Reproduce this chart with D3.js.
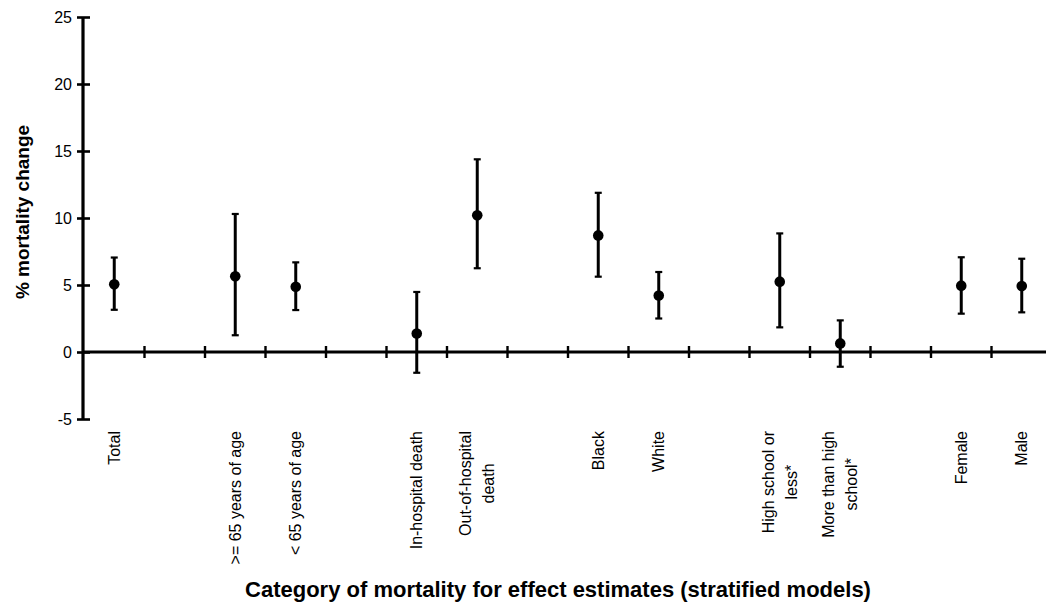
<!DOCTYPE html>
<html>
<head>
<meta charset="utf-8">
<script src="https://cdn.jsdelivr.net/npm/d3@7"></script>
<style>
  html, body { margin: 0; padding: 0; background: #fff; }
  svg { display: block; font-family: "Liberation Sans", Arial, sans-serif; }
</style>
</head>
<body>
<svg id="chart" width="1046" height="607"></svg>
<script>
// ---- data ----
const categories = ["Total", ">= 65 years of age", "< 65 years of age", "In-hospital death",
  "Out-of-hospital\ndeath", "Black", "White", "High school or\nless*", "More than high\nschool*",
  "Female", "Male"];
// stratum each category belongs to (a gap slot separates strata)
const strata = ["all", "age", "age", "place", "place", "race", "race", "edu", "edu", "sex", "sex"];
const estimate = [5.05, 5.65, 4.87, 1.38, 10.2, 8.7, 4.22, 5.25, 0.64, 4.95, 4.93];
const lower    = [3.15, 1.25, 3.13, -1.55, 6.25, 5.62, 2.5, 1.84, -1.1, 2.86, 2.96];
const upper    = [7.05, 10.3, 6.69, 4.48, 14.38, 11.88, 5.97, 8.85, 2.36, 7.07, 6.96];
const yTicks   = [-5, 0, 5, 10, 15, 20, 25];
const yTitle = "% mortality change";
const xTitle = "Category of mortality for effect estimates (stratified models)";

// ---- build slots (gap inserted between strata) ----
const slots = [];
categories.forEach((c, i) => {
  if (i > 0 && strata[i] !== strata[i - 1]) slots.push("gap" + i);
  slots.push(c);
});

const svg = d3.select("#chart");
const ink = "#000";

const x = d3.scaleBand().domain(slots).range([84, 84 + 60.5 * slots.length]).padding(0);
const y = d3.scaleLinear().domain([-5, 25]).range([419, 17]);

// ---- y axis ----
const yAxis = svg.append("g").attr("transform", "translate(83,0)")
  .call(d3.axisLeft(y).tickValues(yTicks).tickSize(6).tickPadding(8).tickFormat(d => String(d)));
yAxis.select(".domain").remove();
yAxis.append("line").attr("x1", 0).attr("x2", 0).attr("y1", y(25)).attr("y2", y(-5))
  .attr("stroke", ink).attr("stroke-width", 3.2);
yAxis.selectAll(".tick line").attr("x1", -6).attr("x2", 7).attr("stroke", ink).attr("stroke-width", 2.6);
yAxis.selectAll(".tick text").attr("x", -11).attr("fill", ink)
  .style("font-size", "16px").style("font-family", "'Liberation Sans', Arial, sans-serif");

// ---- x axis line at y=0 ----
svg.append("line").attr("x1", 83).attr("x2", 1046).attr("y1", y(0)).attr("y2", y(0))
  .attr("stroke", ink).attr("stroke-width", 3);
// tick marks at slot boundaries
svg.append("g").selectAll("line").data(slots.slice(1)).join("line")
  .attr("x1", d => x(d)).attr("x2", d => x(d))
  .attr("y1", y(0) - 6).attr("y2", y(0) + 6)
  .attr("stroke", ink).attr("stroke-width", 2.4);

// ---- error bars ----
const g = svg.append("g");
const cx = d => x(d) + x.bandwidth() / 2;
categories.forEach((c, i) => {
  const xc = cx(c);
  g.append("line").attr("x1", xc).attr("x2", xc).attr("y1", y(upper[i])).attr("y2", y(lower[i]))
    .attr("stroke", ink).attr("stroke-width", 3);
  [upper[i], lower[i]].forEach(v => {
    g.append("line").attr("x1", xc - 3.5).attr("x2", xc + 3.5).attr("y1", y(v)).attr("y2", y(v))
      .attr("stroke", ink).attr("stroke-width", 2.2);
  });
  g.append("circle").attr("cx", xc).attr("cy", y(estimate[i])).attr("r", 5.3).attr("fill", ink);
});

// ---- category labels (rotated) ----
const lab = svg.append("g").style("font-size", "16px").attr("fill", ink);
categories.forEach(c => {
  const lines = c.split("\n");
  const grp = lab.append("g").attr("transform", `translate(${cx(c)},431) rotate(-90)`);
  const texts = lines.map((t, k) => grp.append("text")
    .attr("y", (k - (lines.length - 1) / 2) * 23)
    .attr("dominant-baseline", "central")
    .text(t));
  const maxLen = d3.max(texts, t => t.node().getComputedTextLength());
  texts.forEach(t => t.attr("x", -maxLen / 2).attr("text-anchor", "middle"));
});

// ---- titles ----
svg.append("text").attr("transform", "translate(22,212) rotate(-90)")
  .attr("text-anchor", "middle").attr("dominant-baseline", "central")
  .style("font-size", "19px").style("font-weight", "bold").attr("fill", ink).text(yTitle);
svg.append("text").attr("x", 558).attr("y", 597).attr("text-anchor", "middle")
  .style("font-size", "22px").style("font-weight", "bold").attr("fill", ink).text(xTitle);
</script>
</body>
</html>
